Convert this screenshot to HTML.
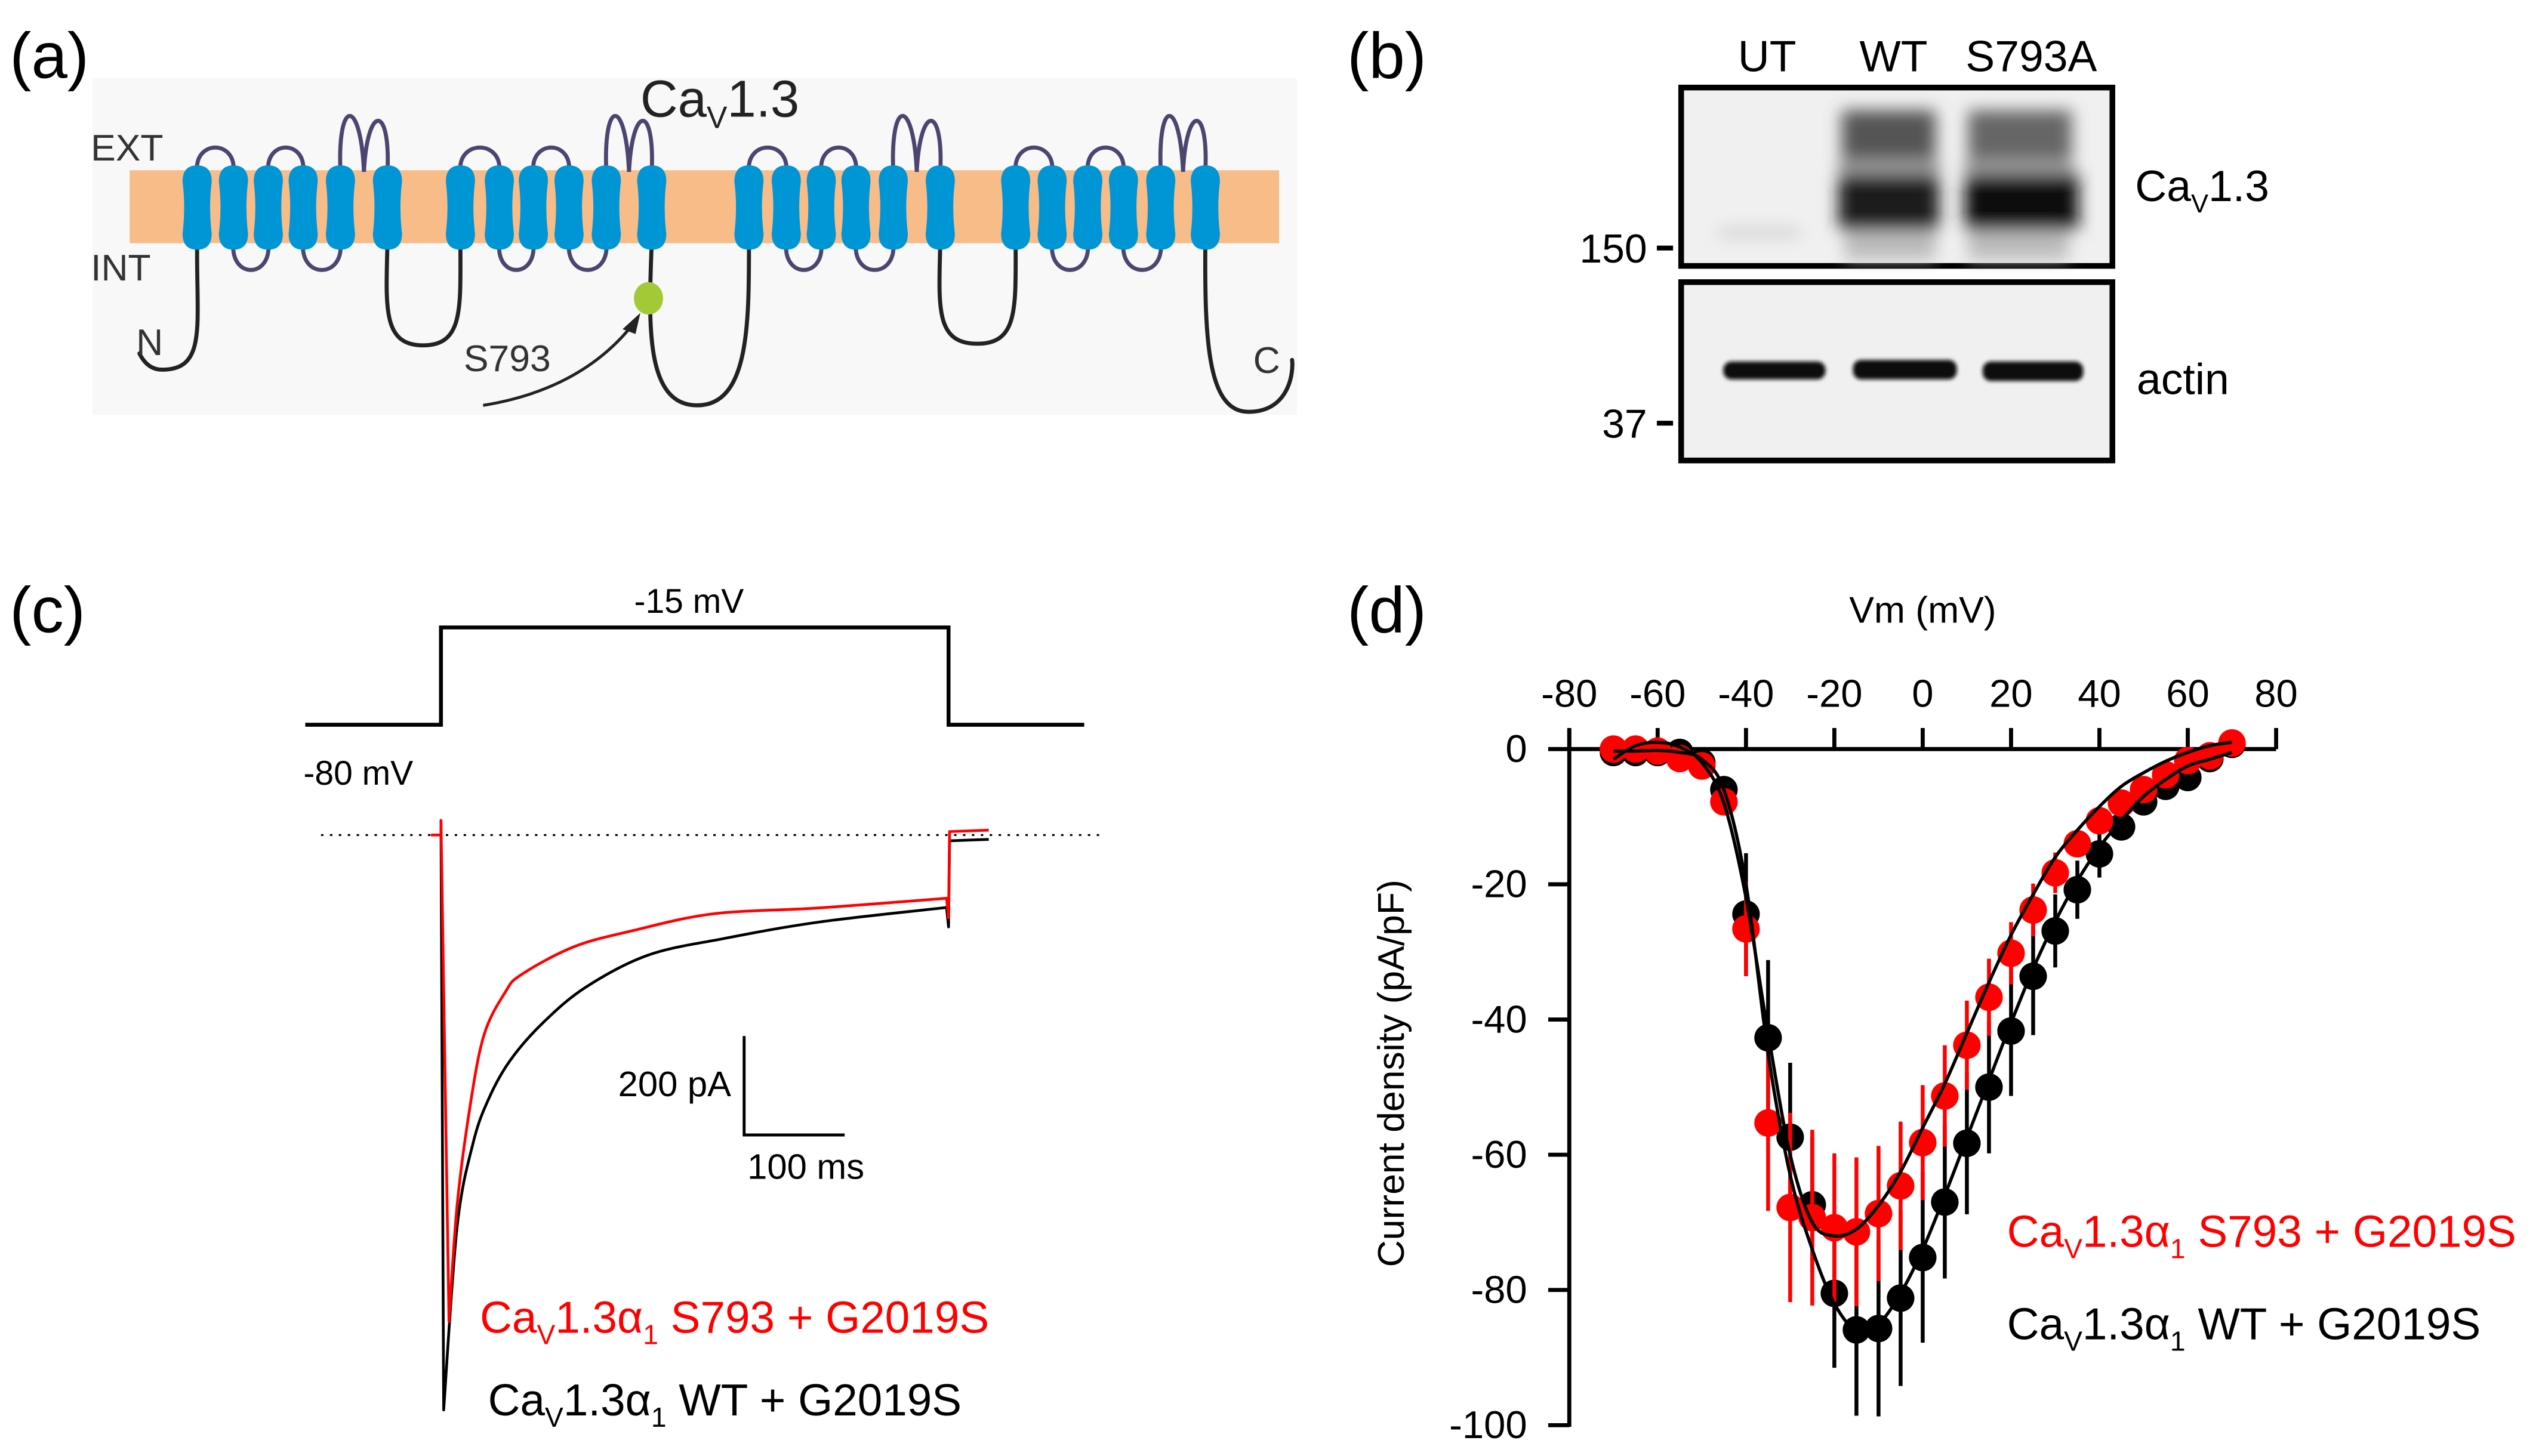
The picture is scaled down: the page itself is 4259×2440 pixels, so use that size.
<!DOCTYPE html>
<html><head><meta charset="utf-8">
<style>
html,body{margin:0;padding:0;background:#fff;}
svg{display:block;}
text{font-family:"Liberation Sans",Arial,sans-serif;}
</style></head>
<body>
<svg id="fig" xmlns="http://www.w3.org/2000/svg" width="4259" height="2440" viewBox="0 0 1568 898" preserveAspectRatio="none">
<defs>
<filter id="blur3" x="-30%" y="-30%" width="160%" height="160%"><feGaussianBlur stdDeviation="5"/></filter>
<filter id="blur1" x="-30%" y="-50%" width="160%" height="200%"><feGaussianBlur stdDeviation="1.2"/></filter>
</defs>
<!-- panel labels -->
<text x="6" y="48" font-size="40">(a)</text>
<text x="831" y="48" font-size="40">(b)</text>
<text x="6" y="390" font-size="40">(c)</text>
<text x="831" y="390" font-size="40">(d)</text>

<!-- panel a -->
<g id="pa">
<rect x="57" y="48" width="743" height="208" fill="#f8f8f8"/>
<rect x="80" y="105" width="709" height="45" fill="#f8bc88"/>
<g id="loops" fill="none" stroke-linecap="round"></g>
<g id="helices"></g>
<ellipse cx="400" cy="184" rx="9" ry="10" fill="#a3c936"/>
<path d="M298,250 Q360,240 392,198" fill="none" stroke="#222" stroke-width="1.8"/>
<path d="M395,193 L384,203 L392,206 Z" fill="#222"/>
<text x="56" y="99" font-size="23" fill="#333">EXT</text>
<text x="56" y="173" font-size="23" fill="#333">INT</text>
<text x="84" y="219" font-size="23" fill="#333">N</text>
<text x="773" y="230" font-size="23" fill="#333">C</text>
<text x="286" y="229" font-size="23" fill="#333">S793</text>
<text x="395" y="72" font-size="32" fill="#222">Ca<tspan font-size="19" dy="7">V</tspan><tspan dy="-7">1.3</tspan></text>
</g>

<!-- panel b -->
<g id="pb">
<text x="1090" y="44" font-size="27" text-anchor="middle">UT</text>
<text x="1168" y="44" font-size="27" text-anchor="middle">WT</text>
<text x="1253" y="44" font-size="27" text-anchor="middle">S793A</text>
<rect x="1037" y="54" width="266" height="110" fill="#f0f0f0" stroke="#000" stroke-width="3.5"/>
<g filter="url(#blur3)">
<rect x="1136" y="68" width="58" height="30" fill="#555"/>
<rect x="1214" y="68" width="64" height="30" fill="#666"/>
<rect x="1134" y="108" width="62" height="34" fill="#1a1a1a"/>
<rect x="1212" y="106" width="70" height="36" fill="#0a0a0a"/>
<rect x="1134" y="98" width="62" height="10" fill="#999"/>
<rect x="1212" y="98" width="66" height="10" fill="#999"/>
<rect x="1138" y="142" width="56" height="18" fill="#bbb"/>
<rect x="1214" y="142" width="62" height="18" fill="#bbb"/>
<rect x="1060" y="141" width="50" height="5" fill="#ccc"/>
</g>
<rect x="1037" y="174" width="266" height="110" fill="#f0f0f0" stroke="#000" stroke-width="3.5"/>
<g filter="url(#blur1)" fill="#0a0a0a">
<rect x="1063" y="223" width="63" height="11" rx="5"/>
<rect x="1143" y="222" width="64" height="12" rx="5"/>
<rect x="1223" y="223" width="62" height="12" rx="5"/>
</g>
<text x="1016" y="162" font-size="25" text-anchor="end">150</text>
<line x1="1022" y1="153" x2="1032" y2="153" stroke="#000" stroke-width="3"/>
<text x="1016" y="270" font-size="25" text-anchor="end">37</text>
<line x1="1022" y1="261" x2="1032" y2="261" stroke="#000" stroke-width="3"/>
<text x="1317" y="124" font-size="27">Ca<tspan font-size="16" dy="7">V</tspan><tspan dy="-7">1.3</tspan></text>
<text x="1318" y="243" font-size="27">actin</text>
</g>

<!-- panel c -->
<g id="pc">
<text x="425" y="378" font-size="21" text-anchor="middle">-15 mV</text>
<text x="221" y="484" font-size="21" text-anchor="middle">-80 mV</text>
<line x1="198" y1="515" x2="680" y2="515" stroke="#000" stroke-width="1.2" stroke-dasharray="1.5,4"/>
<g id="traces"></g>
<path d="M459,639 L459,700 L521,700" fill="none" stroke="#000" stroke-width="1.8"/>
<text x="451" y="676" font-size="22" text-anchor="end">200 pA</text>
<text x="461" y="727" font-size="22">100 ms</text>
<text x="296" y="822" font-size="27.5" fill="#ff0000">Ca<tspan font-size="17" dy="7">V</tspan><tspan dy="-7">1.3α</tspan><tspan font-size="17" dy="7">1</tspan><tspan dy="-7"> S793 + G2019S</tspan></text>
<text x="301" y="873" font-size="27.5" fill="#000">Ca<tspan font-size="17" dy="7">V</tspan><tspan dy="-7">1.3α</tspan><tspan font-size="17" dy="7">1</tspan><tspan dy="-7"> WT + G2019S</tspan></text>
</g>

<!-- panel d -->
<g id="pd">
<text x="1186" y="384" font-size="23" text-anchor="middle">Vm (mV)</text>
<text transform="translate(866,662) rotate(-90)" font-size="23" text-anchor="middle">Current density (pA/pF)</text>
<g id="axes"></g>
<g id="marks"></g>
<text x="1238" y="769" font-size="27.5" fill="#ff0000">Ca<tspan font-size="17" dy="7">V</tspan><tspan dy="-7">1.3α</tspan><tspan font-size="17" dy="7">1</tspan><tspan dy="-7"> S793 + G2019S</tspan></text>
<text x="1238" y="826" font-size="27.5" fill="#000">Ca<tspan font-size="17" dy="7">V</tspan><tspan dy="-7">1.3α</tspan><tspan font-size="17" dy="7">1</tspan><tspan dy="-7"> WT + G2019S</tspan></text>
</g>
</svg>
<script>
const NS="http://www.w3.org/2000/svg";
// ---------- panel d data ----------
const voltages=[-70,-65,-60,-55,-50,-45,-40,-35,-30,-25,-20,-15,-10,-5,0,5,10,15,20,25,30,35,40,45,50,55,60,65,70];
const s793Mean=[0,0,-0.3,-1.4,-2.5,-7.8,-26.6,-55.3,-67.8,-69.3,-70.8,-71.4,-68.7,-64.6,-58.2,-51.3,-43.8,-36.7,-30.2,-23.8,-18.3,-14,-10.6,-8,-6,-3.8,-1.7,-1,0.9];
const s793Err=[1,1,1,1,1,1,7,13,14,13,11,11,10,9.5,8.5,7.5,6.6,5.7,4.6,3.9,3,2,1.5,1,1,1,1,1,1];
const wtMean=[-0.5,-0.5,-0.5,-0.5,-2,-6,-24.4,-42.7,-57.4,-67.4,-80.5,-85.9,-85.7,-81.2,-75.2,-67,-58.3,-50,-41.7,-33.6,-26.9,-20.8,-15.5,-11.5,-7.8,-5.5,-4.2,-1.4,0.7];
const wtErr=[1,1,1,1,1,1,9,11.5,11,10,11,12.7,13,13,12.6,11.3,10.5,9.8,9.6,8.7,5.4,4.3,3.5,2,1.5,1,1,1,1];
const fitS793=[-1.5,0.5,1,0.3,-2,-8,-22,-42,-60,-70,-72,-71,-67.5,-62.5,-56,-49.5,-42,-34.5,-27.5,-21.5,-16,-12,-8.5,-5.5,-3.5,-1.8,-0.5,0.5,1];
const fitWT=[-0.3,-0.3,-0.2,-0.5,-1.5,-6,-20,-45,-63,-74,-82,-86,-85,-80.5,-74,-66,-57.5,-49,-40.5,-32.5,-25.5,-19.5,-14.5,-10.5,-7,-4.5,-2.5,-1.5,-0.5];
const xTicks=[-80,-60,-40,-20,0,20,40,60,80];
const yTicks=[0,-20,-40,-60,-80,-100];
// ---------- panel c data ----------
const protoT=[-135,0,0,505,505,640];
const protoV=[-80,-80,-15,-15,-80,-80];
const redDecayT=[8,16,29,43,64,80,132,190,271,376,503];
const redDecayI=[-1000,-763,-557,-410,-323,-287,-230,-197,-162,-150,-130];
const blkDecayT=[2.7,16,32,48,69,101,144,206,281,376,503];
const blkDecayI=[-1182,-807,-633,-540,-463,-387,-313,-247,-213,-179,-149];
const redTailI=7, blkTailI=-12;

function xd(v){return 1186+v*2.725;}
function yd(i){return 462-i*4.17;}
function xt(t){return 272+t*0.62;}
function yv(v){return 447-(v+80)*(60/65);}
function yi(i){return 515-i*0.3;}
function mk(tag,attrs,parent){const e=document.createElementNS(NS,tag);for(const k in attrs)e.setAttribute(k,attrs[k]);parent.appendChild(e);return e;}
function smoothSeg(pts){let d="";for(let i=0;i<pts.length-1;i++){const p0=pts[Math.max(0,i-1)],p1=pts[i],p2=pts[i+1],p3=pts[Math.min(pts.length-1,i+2)];const c1=[p1[0]+(p2[0]-p0[0])/6,p1[1]+(p2[1]-p0[1])/6],c2=[p2[0]-(p3[0]-p1[0])/6,p2[1]-(p3[1]-p1[1])/6];d+=" C"+c1[0]+","+c1[1]+" "+c2[0]+","+c2[1]+" "+p2[0]+","+p2[1];}return d;}
function smooth(pts){return "M"+pts[0][0]+","+pts[0][1]+smoothSeg(pts);}

const ax=document.getElementById('axes');
let l=mk('line',{x1:968,y1:462,x2:1404,y2:462,stroke:'#000','stroke-width':2.5},ax);


l=mk('line',{x1:968,y1:450,x2:968,y2:880,stroke:'#000','stroke-width':2.5},ax);


xTicks.forEach(v=>{const t=mk('line',{x1:xd(v),y1:462,x2:xd(v),y2:449,stroke:'#000','stroke-width':2.5},ax);


const tx=mk('text',{x:xd(v),y:436,'font-size':24,'text-anchor':'middle'},ax);tx.textContent=v;

});
yTicks.forEach(v=>{const t=mk('line',{x1:955,y1:yd(v),x2:968,y2:yd(v),stroke:'#000','stroke-width':2.5},ax);


const tx=mk('text',{x:942,y:yd(v)+8,'font-size':24,'text-anchor':'end'},ax);tx.textContent=v;

});
const mg=document.getElementById('marks');
function series(mean,err,color,name){
 voltages.forEach((v,k)=>{const b=mk('line',{x1:xd(v),x2:xd(v),y1:yd(mean[k]+err[k]),y2:yd(mean[k]-err[k]),stroke:color,'stroke-width':2.4},mg);
 
 });
 voltages.forEach((v,k)=>{const c=mk('circle',{cx:xd(v),cy:yd(mean[k]),r:8.5,fill:color},mg);
 
 });
}
series(wtMean,wtErr,'#000','wt');
series(s793Mean,s793Err,'#ff0000','s793');
[fitS793,fitWT].forEach((f,j)=>{const p=mk('path',{d:smooth(voltages.map((v,k)=>[xd(v),yd(f[k])])),fill:'none',stroke:'#000','stroke-width':2},mg);

});

const tg=document.getElementById('traces');
let p=mk('path',{d:'M'+protoT.map((t,k)=>xt(t)+','+yv(protoV[k])).join(' L'),fill:'none',stroke:'#000','stroke-width':2.4},tg);


function trace(T,I,tail,startT,color,name){
 const pts=T.map((t,k)=>[xt(t),yi(I[k])]);
 let d=`M${xt(startT)},${yi(0)} L${xt(0)},${yi(0)} L${xt(0)},${yi(30)} L${pts[0][0]},${pts[0][1]}`+smoothSeg(pts);
 d+=` L${xt(505)},${yi(I[I.length-1]-40)} L${xt(506)},${yi(tail)} L${xt(545)},${yi(tail+3)}`;
 const e=mk('path',{d:d,fill:'none',stroke:color,'stroke-width':1.7,'stroke-linejoin':'round'},tg);
 
 
}
trace(blkDecayT,blkDecayI,blkTailI,-2,'#000','wt-current-trace');
trace(redDecayT,redDecayI,redTailI,-10,'#ff0000','s793-current-trace');

const helixX=[[121.6,144,165.5,187,210,239],[284,308,329,351,374,402],[462,485,506.6,528,551,580],[626.5,649,671,693,716,743.5]];
const lg=document.getElementById('loops'),hg=document.getElementById('helices');
const purple='#4a4670';
helixX.forEach((d,di)=>{
 [[0,1],[2,3]].forEach(([a,b])=>{const x1=d[a],x2=d[b];mk('path',{d:`M${x1},106 C${x1-2},86 ${x2+2},86 ${x2},106`,stroke:purple,'stroke-width':2.5},lg);});
 [[1,2],[3,4]].forEach(([a,b])=>{const x1=d[a],x2=d[b];mk('path',{d:`M${x1},150 C${x1-2},172 ${x2+2},172 ${x2},150`,stroke:purple,'stroke-width':2.5},lg);});
 const x5=d[4],x6=d[5],q=(x6-x5)/2;
 mk('path',{d:`M${x5},106 C${x5-2},60 ${x5+q-2},60 ${x5+q},106 C${x5+q+2},64 ${x6+2},64 ${x6},106`,stroke:purple,'stroke-width':2.5},lg);
});
const blk='#222';
mk('path',{d:'M121.6,150 C121,200 128,228 100,228 C92,228 88,222 86,218',stroke:blk,'stroke-width':2.5},lg);
mk('path',{d:'M239,150 C238,190 236,213 261,213 C286,213 284,190 284,150',stroke:blk,'stroke-width':2.5},lg);
mk('path',{d:'M402,150 C400,200 398,250 430,250 C462,250 462,200 462,150',stroke:blk,'stroke-width':2.5},lg);
mk('path',{d:'M580,150 C579,190 577,212 603,212 C628,212 626.5,190 626.5,150',stroke:blk,'stroke-width':2.5},lg);
mk('path',{d:'M743.5,150 C743,210 745,254 770,254 C795,254 798,230 797,222',stroke:blk,'stroke-width':2.5},lg);
helixX.flat().forEach(x=>{const h=mk('path',{d:`M${x-9},112 Q${x-9},102 ${x},102 Q${x+9},102 ${x+9},112 Q${x+7},128 ${x+9},144 Q${x+9},154 ${x},154 Q${x-9},154 ${x-9},144 Q${x-7},128 ${x-9},112 Z`,fill:'#0096d6'},hg);

});
</script>
</body></html>
